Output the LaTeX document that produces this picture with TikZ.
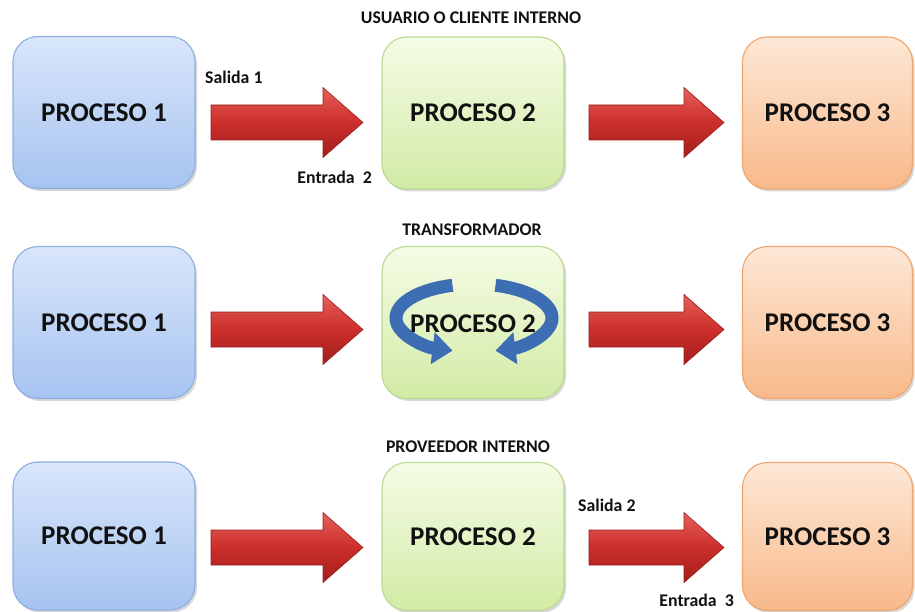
\documentclass[tikz,border=0pt]{standalone}
\usepackage{fontspec}
\setmainfont{Carlito}
\usetikzlibrary{shadows,arrows.meta}
\definecolor{bluetop}{HTML}{D9E6FB}
\definecolor{bluebot}{HTML}{A6C3F0}
\definecolor{blueedge}{HTML}{8EAEDF}
\definecolor{greentop}{HTML}{F5FCE6}
\definecolor{greenbot}{HTML}{D2EBA5}
\definecolor{greenedge}{HTML}{B9DA8F}
\definecolor{orangetop}{HTML}{FDE8D6}
\definecolor{orangebot}{HTML}{F8B98A}
\definecolor{orangeedge}{HTML}{F0A36C}
\definecolor{redtop}{HTML}{E4605A}
\definecolor{redmid}{HTML}{CC2E2B}
\definecolor{redbot}{HTML}{A11E1D}
\definecolor{rededge}{HTML}{98201F}
\definecolor{circblue}{HTML}{3D6DB2}
\definecolor{txt}{HTML}{111111}
\tikzset{
  bigtext/.style={font=\fontsize{27}{30}\selectfont\bfseries, text=txt},
  procbox/.style={rounded corners=25pt, line width=1.1pt, minimum width=182pt,
    minimum height=152pt, inner sep=0pt, bigtext,
    drop shadow={shadow xshift=2pt, shadow yshift=-2.5pt, opacity=0.25, fill=black!60}},
  pone/.style={procbox, draw=blueedge, top color=bluetop, bottom color=bluebot},
  ptwo/.style={procbox, draw=greenedge, top color=greentop, bottom color=greenbot},
  pthree/.style={procbox, minimum width=170pt, draw=orangeedge, top color=orangetop, bottom color=orangebot},
  lbl/.style={font=\fontsize{17.8}{20}\selectfont\bfseries, text=txt, inner sep=0pt},
  redarrow/.style={draw=rededge, line width=0.6pt, top color=redtop, bottom color=redbot, middle color=redmid},
  circarrow/.style={draw=circblue, line width=13pt, -{Triangle[width=31pt,length=20pt]}}
}
% #1 left x, #2 head start x, #3 tip x, #4 centre y
\newcommand\redblock[4]{%
  \path[redarrow] (#1,#4-17.5) -- (#2,#4-17.5) -- (#2,#4-35) -- (#3,#4)
     -- (#2,#4+35) -- (#2,#4+17.5) -- (#1,#4+17.5) -- cycle;}
\begin{document}
\begin{tikzpicture}[x=1pt,y=-1pt]
\useasboundingbox[fill=white] (0,0) rectangle (915,612);
% row 1
\node[pone]   (a1) at (104,112.5) {PROCESO 1};
\node[ptwo]   (a2) at (473,113)   {PROCESO 2};
\node[pthree] (a3) at (827.5,113) {PROCESO 3};
\redblock{211}{323}{363}{122.5}
\redblock{589}{684}{724}{122.5}
\node[lbl] (t1) at (471,18) {USUARIO O CLIENTE INTERNO};
\node[lbl, anchor=west] (s1) at (205,77) {Salida 1};
\node[lbl, anchor=east] (e2) at (372,177) {Entrada\ \ 2};
% row 2
\node[pone]   (b1) at (104,322.5) {PROCESO 1};
\node[ptwo]   (b2) at (473,322.5) {};
\node[pthree] (b3) at (827.5,322.5) {PROCESO 3};
\redblock{211}{323}{363}{329.5}
\redblock{589}{684}{724}{329.5}
\draw[circarrow] (452.5,285.3) arc[start angle=-106, end angle=-254, x radius=78, y radius=34];
\draw[circarrow] (495.5,285.3) arc[start angle=-74, end angle=74, x radius=78, y radius=34];
\node[bigtext] (b2t) at (473,324) {PROCESO 2};
\node[lbl] (t2) at (472,230) {TRANSFORMADOR};
% row 3
\node[pone, minimum height=148pt]   (c1) at (104,536) {PROCESO 1};
\node[ptwo, minimum height=148pt]   (c2) at (473,536.5) {PROCESO 2};
\node[pthree, minimum height=148pt] (c3) at (827.5,536.5) {PROCESO 3};
\redblock{211}{323}{363}{547.5}
\redblock{589}{684}{724}{547.5}
\node[lbl] (t3) at (468,447) {PROVEEDOR INTERNO};
\node[lbl, anchor=west] (s2) at (578,505) {Salida 2};
\node[lbl, anchor=east] (e3) at (734,600) {Entrada\ \ 3};
\end{tikzpicture}
\end{document}
